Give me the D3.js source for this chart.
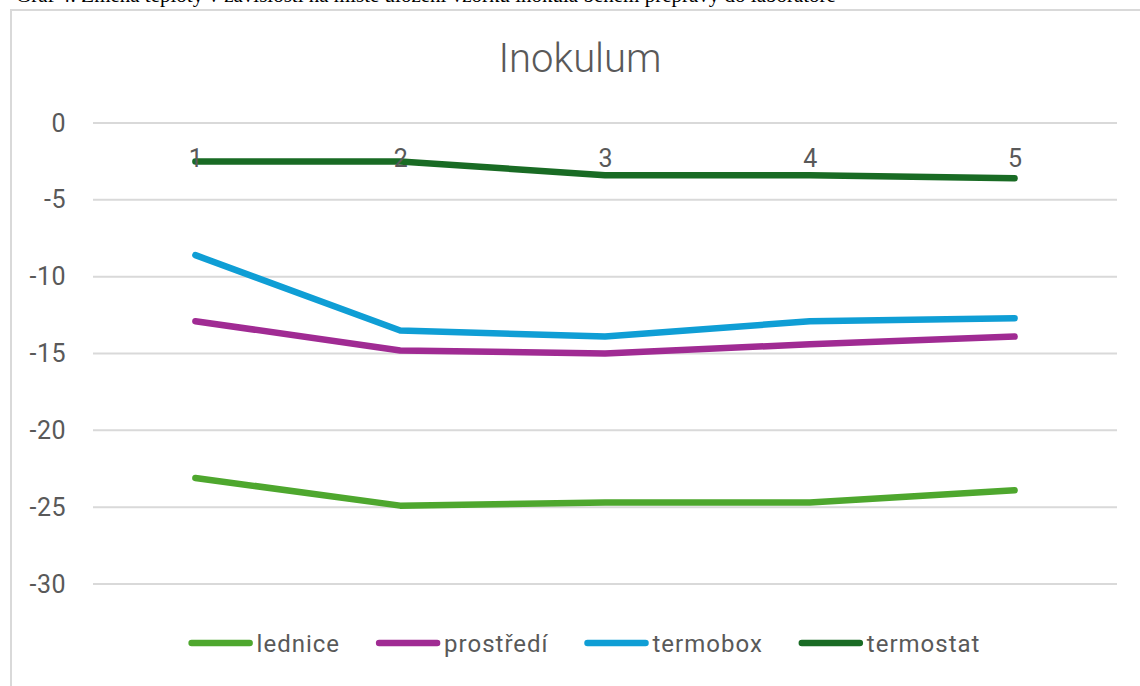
<!DOCTYPE html>
<html lang="cs">
<head>
<meta charset="utf-8">
<script src="https://cdn.jsdelivr.net/npm/d3@7"></script>
<style>
  html, body { margin: 0; padding: 0; background: #fff; }
  svg { display: block; }
  text { font-family: Roboto, "Open Sans", sans-serif; fill: #595959; }
</style>
</head>
<body>
<svg id="chart" width="1140" height="686"></svg>
<script>
// Measurement points (x categories)
const categories = ["1", "2", "3", "4", "5"];

// Temperature readings (°C) per storage place
const lednice   = [-23.1, -24.9, -24.7, -24.7, -23.9];
const prostredi = [-12.9, -14.8, -15.0, -14.4, -13.9];
const termobox  = [-8.6, -13.5, -13.9, -12.9, -12.7];
const termostat = [-2.5, -2.5, -3.4, -3.4, -3.6];

const seriesNames  = ["lednice", "prostředí", "termobox", "termostat"];
const seriesValues = [lednice, prostredi, termobox, termostat];
const seriesColors = ["#4EA72E", "#A02B93", "#0F9ED5", "#196B24"];

const yTicks = [0, -5, -10, -15, -20, -25, -30];

const chartTitle = "Inokulum";
const caption = "Graf 4: Změna teploty v závislosti na místě uložení vzorků inokula během přepravy do laboratoře";

const svg = d3.select("#chart");

// caption line of the surrounding document, cut by the top edge
svg.append("text")
  .attr("x", 16).attr("y", 2)
  .style("font-family", "'Liberation Serif', 'Times New Roman', serif")
  .style("font-size", "21px")
  .style("fill", "#000")
  .text(caption);

// chart area frame
svg.append("rect")
  .attr("x", 11).attr("y", 10)
  .attr("width", 1160).attr("height", 700)
  .attr("fill", "#fff")
  .attr("stroke", "#d9d9d9").attr("stroke-width", 2);

const plotLeft = 93, plotRight = 1117, plotTop = 123, plotBottom = 584;

const x = d3.scalePoint().domain(categories).range([plotLeft, plotRight]).padding(0.5);
const y = d3.scaleLinear().domain([-30, 0]).range([plotBottom, plotTop]);

// horizontal gridlines
svg.append("g")
  .selectAll("line")
  .data(yTicks)
  .join("line")
  .attr("x1", plotLeft).attr("x2", plotRight)
  .attr("y1", d => y(d)).attr("y2", d => y(d))
  .attr("stroke", "#d9d9d9").attr("stroke-width", 2);

// value axis labels (plain hyphen-minus, as in the workbook)
const yAxis = svg.append("g")
  .attr("transform", `translate(${plotLeft - 27},0)`)
  .call(d3.axisLeft(y).tickValues(yTicks).tickSize(0).tickPadding(0).tickFormat(d => String(d)));
yAxis.select(".domain").remove();
yAxis.selectAll("text")
  .style("font-family", "Roboto, 'Open Sans', sans-serif")
  .style("font-size", "25px")
  .style("letter-spacing", "0.5px")
  .attr("fill", "#595959");

// series lines
const line = d3.line()
  .x((d, i) => x(categories[i]))
  .y(d => y(d));

svg.append("g")
  .selectAll("path")
  .data(seriesValues)
  .join("path")
  .attr("d", d => line(d))
  .attr("fill", "none")
  .attr("stroke", (d, i) => seriesColors[i])
  .attr("stroke-width", 6.5)
  .attr("stroke-linecap", "round")
  .attr("stroke-linejoin", "round");

// category labels just below the zero line
const xAxis = svg.append("g")
  .attr("transform", `translate(0,${y(0) + 26})`)
  .call(d3.axisBottom(x).tickSize(0).tickPadding(0));
xAxis.select(".domain").remove();
xAxis.selectAll("text")
  .style("font-family", "Roboto, 'Open Sans', sans-serif")
  .style("font-size", "25px")
  .attr("fill", "#595959");

// title
svg.append("text")
  .attr("x", 580).attr("y", 72)
  .attr("text-anchor", "middle")
  .style("font-size", "40px")
  .style("font-weight", "300")
  .text(chartTitle);

// legend
const swatchLen = 58, textOffset = 65;
const legend = svg.append("g");
const items = legend.selectAll("g")
  .data(seriesNames)
  .join("g");
items.append("line")
  .attr("x1", 0).attr("x2", swatchLen)
  .attr("y1", 0).attr("y2", 0)
  .attr("stroke", (d, i) => seriesColors[i])
  .attr("stroke-width", 6.5)
  .attr("stroke-linecap", "round");
items.append("text")
  .attr("x", textOffset).attr("y", 9)
  .style("font-size", "24px")
  .style("letter-spacing", "1px")
  .text(d => d);

const widths = items.nodes().map(n =>
  textOffset + d3.select(n).select("text").node().getComputedTextLength());
const gap = 39;
const total = d3.sum(widths) + gap * (widths.length - 1);
let cursor = 583 - total / 2 + 3;
items.attr("transform", (d, i) => {
  const t = `translate(${cursor},643)`;
  cursor += widths[i] + gap;
  return t;
});
</script>
</body>
</html>
